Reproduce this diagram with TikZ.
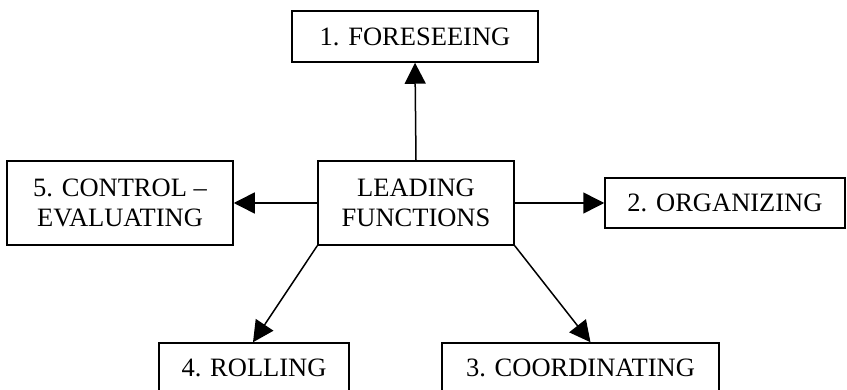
\documentclass[tikz,border=0pt]{standalone}
\usepackage{fontspec}
\setmainfont{Liberation Serif}
\usetikzlibrary{arrows.meta}
\begin{document}
\begin{tikzpicture}[x=1pt,y=-1pt,
  box/.style={draw=black,line width=1.5pt,align=center,inner sep=0pt,
    font=\fontsize{26.5}{30}\selectfont},
  link/.style={line width=1.5pt,-{Triangle[length=21pt,width=21pt]}}]
  \useasboundingbox (0,0) rectangle (847,390);
  \clip (0,0) rectangle (847,390);
  % central box
  \node[box,minimum width=196pt,minimum height=84pt] (lead) at (416,203) {LEADING\\FUNCTIONS};
  % the five functions
  \node[box,minimum width=246pt,minimum height=51pt] (fore) at (415,36.5) {1. FORESEEING};
  \node[box,minimum width=240pt,minimum height=50pt] (org) at (725,203) {2. ORGANIZING};
  \node[box,minimum width=277pt,minimum height=50pt] (coord) at (580.5,368) {3. COORDINATING};
  \node[box,minimum width=190pt,minimum height=50pt] (roll) at (254,368) {4. ROLLING};
  \node[box,minimum width=226pt,minimum height=84pt] (ctrl) at (120,203) {5. CONTROL --\\EVALUATING};
  % connectors
  \draw[link] (lead.north) -- (fore.south);
  \draw[link] (lead.east) -- (org.west);
  \draw[link] (lead.west) -- (ctrl.east);
  \draw[link] (lead.south west) -- ([xshift=-1pt]roll.north);
  \draw[link] (lead.south east) -- ([xshift=10pt]coord.north);
\end{tikzpicture}
\end{document}
